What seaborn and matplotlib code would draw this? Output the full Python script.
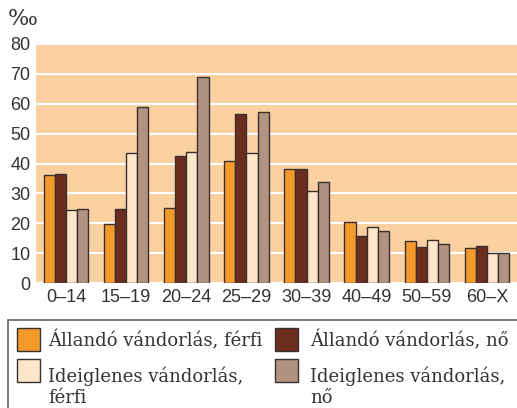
import numpy as np
import pandas as pd
import matplotlib
matplotlib.use("Agg")
import matplotlib.pyplot as plt
import seaborn as sns
from matplotlib.patches import Rectangle

age_groups = ["0–14", "15–19", "20–24", "25–29", "30–39", "40–49", "50–59", "60–X"]
series = ["Állandó vándorlás, férfi", "Állandó vándorlás, nő",
          "Ideiglenes vándorlás,\nférfi", "Ideiglenes vándorlás,\nnő"]
allando_ferfi = [36.0, 19.7, 25.2, 40.9, 38.0, 20.3, 13.9, 11.8]
allando_no = [36.6, 24.9, 42.4, 56.6, 38.2, 15.8, 12.1, 12.3]
ideiglenes_ferfi = [24.3, 43.6, 43.8, 43.6, 30.8, 18.8, 14.3, 9.9]
ideiglenes_no = [24.9, 58.9, 68.8, 57.4, 33.8, 17.3, 13.2, 9.9]
colors = ["#F39A2B", "#6A2D1E", "#FFE5CA", "#B29382"]

df = pd.DataFrame({"kor": age_groups * 4,
                   "sor": np.repeat(series, len(age_groups)),
                   "ertek": allando_ferfi + allando_no + ideiglenes_ferfi + ideiglenes_no})

sns.set_style("white")
plt.rcParams["font.family"] = ["Liberation Sans", "DejaVu Sans"]

W, H = 517, 408
fig = plt.figure(figsize=(W / 100, H / 100), dpi=100)
ax = fig.add_axes([36 / W, 1 - 283 / H, 1 - 36 / W, (283 - 44) / H])
ax.set_facecolor("#FBD1A2")

sns.barplot(data=df, x="kor", y="ertek", hue="sor", palette=colors, width=0.74,
            edgecolor="#3a3030", linewidth=1.0, saturation=1, ax=ax, legend=False, zorder=3)

ax.set_ylim(0, 80)
ax.set_xlim(-0.5, 7.5)
ax.set_yticks(range(0, 81, 10))
ax.yaxis.grid(True, color="white", linewidth=1.5, zorder=0)
ax.set_axisbelow(True)
for s in ax.spines.values():
    s.set_visible(False)
ax.set_xlabel("")
ax.set_ylabel("")
ax.tick_params(axis="y", length=0, labelsize=13, pad=4, colors="#333333")
ax.tick_params(axis="x", length=0, labelsize=13, pad=4, colors="#333333")
ax.set_xticks(np.arange(-0.5, 7.6, 1), minor=True)
ax.tick_params(axis="x", which="minor", length=3, color="white", width=1.2)

fig.text(8 / W, 1 - 19 / H, "‰", fontsize=16, family="DejaVu Serif", color="#333333",
         ha="left", va="center")

# legend box, drawn by hand so the two-line labels sit like the original
def px(x, y):
    return x / W, 1 - y / H

fig.patches.append(Rectangle(px(8, 460), 1.1, (460 - 320) / H, transform=fig.transFigure,
                             facecolor="white", edgecolor="#6f6f6f", linewidth=1.3))
handle_pos = [(17, 328), (275, 328), (17, 359), (275, 359)]
# baseline of the last line of each label
text_pos = [(48, 346), (310, 346), (48, 403), (310, 403)]
for c, lab, (hx, hy), (tx, ty) in zip(colors, series, handle_pos, text_pos):
    fig.patches.append(Rectangle(px(hx, hy + 23), 23 / W, 23 / H, transform=fig.transFigure,
                                 facecolor=c, edgecolor="#3a3030", linewidth=1.0))
    fig.text(*px(tx, ty), lab, fontsize=13, family="DejaVu Serif", color="#333333",
             ha="left", va="baseline", linespacing=1.2)

fig.savefig("out.png", dpi=100)
